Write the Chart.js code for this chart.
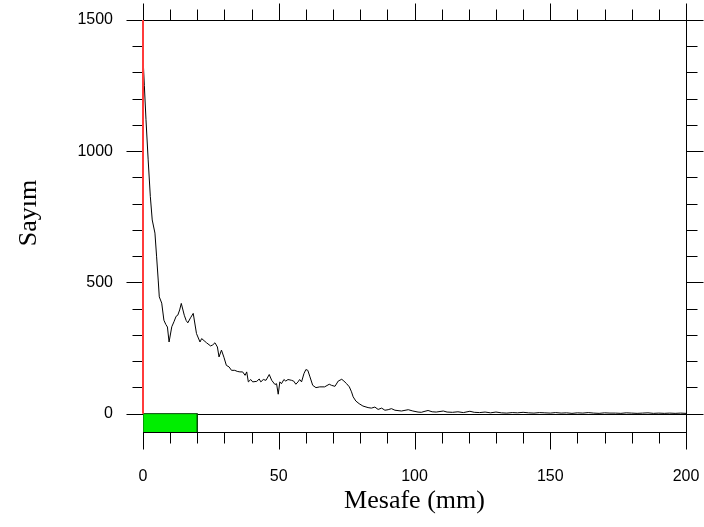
<!DOCTYPE html>
<html><head><meta charset="utf-8">
<script src="https://cdn.jsdelivr.net/npm/chart.js@4/dist/chart.umd.min.js"></script>
<style>html,body{margin:0;padding:0;background:#fff;}</style>
</head><body>
<canvas id="c" width="704" height="527"></canvas>
<script>
// ---- data ----
const distanceMm = [0,0.5,1.1,1.9,2.7,3.4,4.4,5.0,5.6,6.0,6.9,7.7,8.4,9.0,9.6,10.6,11.4,12.2,12.8,13.5,14.1,15.2,15.9,16.5,17.5,18.5,19.7,21.0,21.6,22.5,23.4,24.9,25.7,26.5,27.4,28.0,28.9,29.8,30.7,31.7,32.6,33.8,34.7,35.7,36.7,37.6,38.2,38.8,39.7,40.4,41.9,42.8,43.4,44.3,45.3,46.5,47.4,48.6,49.2,49.8,50.4,51.0,51.9,52.6,53.4,54.7,55.5,56.3,57.1,57.7,58.4,59.3,60.0,60.7,61.5,62.5,63.7,65.1,66.9,68.6,69.4,70.7,71.9,73.2,74.0,75.0,76.0,76.8,77.4,78.4,79.6,81.0,82.9,84.1,85.4,86.6,87.9,89.1,90.3,91.5,92.8,95.2,97.7,99.4,101.3,102.5,103.5,105,106.5,108,110.6,112,114,116,118,120.4,122,124,126,128,130,132,134,136,138,140,142,144,146,148,150,152,154,156,158,160,162,164,166,168,170,172,174,176,178,180,182,184,186,188,190,192,194,196,198,200];
const counts = [1360,1250,1120,967,827,738,688,600,509,445,421,356,340,330,273,331,350,371,375,395,420,375,355,346,365,382,305,273,286,278,270,258,262,270,254,216,242,215,184,178,165,165,161,159,159,146,159,121,130,121,123,132,121,130,127,149,127,111,114,74,121,114,130,124,130,127,124,112,121,130,121,153,168,165,140,108,99,102,102,112,108,104,124,131,124,114,102,83,64,48,38,29,23,21,25,16,21,13,15,19,13,10,15,10,6,5,8,12,7,6,10,6,5,7,4,9,5,4,6,3,6,3,2,4,3,5,3,2,4,3,2,4,2,3,1,3,2,4,2,1,3,2,2,1,3,2,1,2,3,1,2,1,2,1,2,1];
const regionX = [0, 0, 20, 20];        // green marker box (mm)
const regionY = [-70, 0, 0, -70];      // green marker box (counts)
const markerX = [0, 0];                // red vertical marker
const markerY = [0, 1500];
const xLabelValues = [0, 50, 100, 150, 200];
const yLabelValues = [0, 500, 1000, 1500];

const toPts = (xs, ys) => xs.map((v, i) => ({x: v, y: ys[i]}));

const framePlugin = {
  id: 'frame',
  beforeDatasetsDraw(chart) {
    const {ctx, chartArea: a, scales: {x, y}} = chart;
    const r = v => Math.round(v) + 0.5;
    ctx.save();
    ctx.strokeStyle = '#000';
    ctx.lineWidth = 1;
    const L = r(a.left), R = r(a.right), T = r(a.top), B = r(a.bottom);
    ctx.strokeRect(L, T, R - L, B - T);
    ctx.beginPath();
    x.ticks.forEach(t => {
      if (t.value % 10 !== 0) return;
      const len = xLabelValues.includes(t.value) ? 17 : 11;
      const px = r(x.getPixelForValue(t.value));
      ctx.moveTo(px, B); ctx.lineTo(px, B + len);
      ctx.moveTo(px, T); ctx.lineTo(px, T - len);
    });
    y.ticks.forEach(t => {
      if (t.value % 100 !== 0) return;
      const len = yLabelValues.includes(t.value) ? 17 : 11;
      const py = r(y.getPixelForValue(t.value));
      ctx.moveTo(L, py); ctx.lineTo(L - len, py);
      ctx.moveTo(R, py); ctx.lineTo(R + len, py);
    });
    const z = r(y.getPixelForValue(0));
    ctx.moveTo(L, z); ctx.lineTo(R, z);
    ctx.stroke();
    ctx.restore();
  }
};

const noPad = s => { s.paddingTop = 0; s.paddingBottom = 0; s.paddingLeft = 0; s.paddingRight = 0; };

new Chart(document.getElementById('c'), {
  type: 'line',
  data: {
    datasets: [
      { data: toPts(markerX, markerY), borderColor: '#ff3b3b', borderWidth: 2, pointRadius: 0, clip: 3, fill: false },
      { data: toPts(distanceMm, counts), borderColor: '#000', borderWidth: 1, pointRadius: 0, tension: 0, fill: false },
      { data: toPts(regionX, regionY), borderColor: '#0a4a0a', borderWidth: 1, backgroundColor: '#00ee00', pointRadius: 0, fill: 'start' }
    ]
  },
  options: {
    responsive: false,
    animation: false,
    events: [],
    layout: { padding: { top: 20, right: 18, left: 0, bottom: 0 } },
    plugins: { legend: { display: false }, tooltip: { enabled: false } },
    scales: {
      x: {
        type: 'linear', min: 0, max: 200,
        grid: { display: false, drawTicks: false },
        border: { display: false },
        afterFit: s => { s.height = 95; noPad(s); },
        ticks: {
          stepSize: 10, autoSkip: false, maxRotation: 0, padding: 35, includeBounds: false,
          color: '#000', font: { family: 'Liberation Sans', size: 16 },
          callback: v => xLabelValues.includes(v) ? String(v) : ''
        },
        title: { display: true, text: 'Mesafe (mm)', color: '#000',
          font: { family: 'Liberation Serif', size: 26 }, padding: { top: 0, bottom: 10 } }
      },
      y: {
        type: 'linear', min: -70, max: 1500,
        grid: { display: false, drawTicks: false },
        border: { display: false },
        afterFit: s => { s.width = 143; noPad(s); },
        ticks: {
          stepSize: 100, autoSkip: false, padding: 30, includeBounds: false,
          color: '#000', font: { family: 'Liberation Sans', size: 16 },
          callback: v => yLabelValues.includes(v) ? String(v) : ''
        },
        title: { display: true, text: '    Sayım', color: '#000',
          font: { family: 'Liberation Serif', size: 26 }, padding: { top: 14, bottom: 0 } }
      }
    }
  },
  plugins: [framePlugin]
});
</script>
</body></html>
